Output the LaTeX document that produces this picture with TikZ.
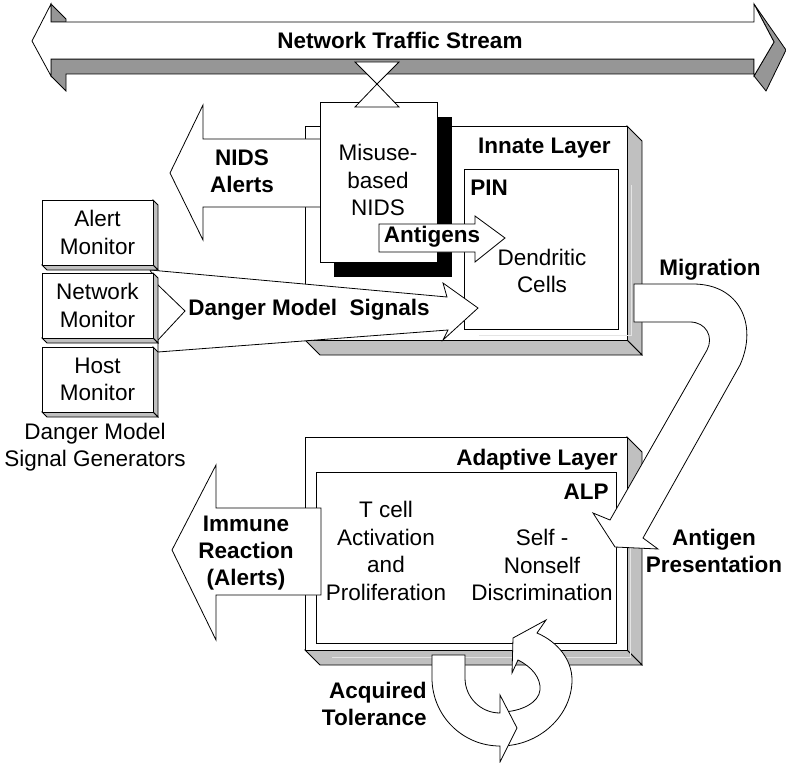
\documentclass[tikz,border=0pt]{standalone}
\usepackage{fontspec}
\setmainfont{Liberation Sans}
\definecolor{streamgray}{HTML}{969696}
\definecolor{facegray}{HTML}{C0C0C0}
\definecolor{hilite}{HTML}{E4E4E4}
\begin{document}
\begin{tikzpicture}[x=1pt,y=-1pt,line width=0.8pt,
  face/.style={draw=black,fill=facegray},
  sface/.style={draw=black,fill=streamgray},
  plate/.style={draw=black,fill=white},
  hl/.style={draw=hilite,line width=0.9pt},
  bold/.style={font=\bfseries\fontsize{22.5}{27}\selectfont,align=center,inner sep=0pt},
  plain/.style={font=\fontsize{22.5}{27.5}\selectfont,align=center,inner sep=0pt},
  monitor/.pic={
    \path[face] (111,0) -- (116,5) -- (116,70) -- (111,65) -- cycle;
    \path[face] (0,65) -- (111,65) -- (116,70) -- (5,70) -- cycle;
    \path[plate] (0,0) rectangle (111,65);
  }]
\useasboundingbox (0,0) rectangle (786,762);

% two-headed extruded arrow for the traffic stream
\path[sface] (51,4) -- (66,19) -- (66,22) -- (51,22) -- cycle;
\path[sface] (51,59) -- (754,59) -- (754,74) -- (66,74) -- (66,91) -- (51,76) -- cycle;
\path[sface] (754,4) -- (786,50) -- (766,91) -- (754,76) -- (774,42) -- cycle;
\path[plate] (32,41) -- (51,4) -- (51,22) -- (754,22) -- (754,4) -- (774,42)
  -- (754,76) -- (754,59) -- (51,59) -- (51,76) -- cycle;
\node[bold] (stream) at (400,40) {Network Traffic Stream};

% innate layer block
\path[face] (627,126) -- (642,141) -- (642,355) -- (627,340) -- cycle;
\path[face] (305,340) -- (627,340) -- (642,355) -- (320,355) -- cycle;
\path[plate] (305,126) rectangle (627,340);
\draw[hl] (479,335) -- (631,335) -- (631,185);
\path[plate] (464,169) rectangle (618,329);
\node[bold,anchor=east] (innate) at (611,148) {Innate Layer};
\node[bold,anchor=west] (pin) at (470,188) {PIN};
\node[plain] (dc) at (542,271) {Dendritic\\Cells};

% NIDS alerts leave to the left
\path[plate] (320,139) -- (203,139) -- (203,105) -- (170,173) -- (203,240) -- (203,207) -- (320,207);
\node[bold] (nidsal) at (242,171) {NIDS\\Alerts};

% misuse-based NIDS with its black shadow
\fill[black] (334,117) rectangle (452,277);
\path[plate] (320,102) rectangle (437,262);
\node[plain] (nids) at (378,180) {Misuse-\\based\\NIDS};

% tap on the stream
\path[plate] (355,62) -- (399,62) -- (377,84) -- cycle;
\path[plate] (355,107) -- (399,107) -- (377,84) -- cycle;

% antigens into the PIN
\path[plate] (379,224) -- (475,224) -- (475,216) -- (505,238) -- (475,262) -- (475,252) -- (379,252) -- cycle;
\node[bold] (ag) at (432,237) {Antigens};

% danger model signals
\path[plate] (150,270) -- (447,297) -- (443,283) -- (478,308) -- (443,340) -- (448,330)
  -- (158,352) -- (158,340) -- (185,311) -- (158,285) -- cycle;
\node[bold] (dms) at (309,310) {Danger Model\ \ Signals};

% signal generators
\pic at (42,200) {monitor};
\pic at (42,273) {monitor};
\pic at (42,347) {monitor};
\node[plain] (alertm) at (97.5,232.5) {Alert\\Monitor};
\node[plain] (netm) at (97.5,305.5) {Network\\Monitor};
\node[plain] (hostm) at (97.5,379.5) {Host\\Monitor};
\node[plain] (gen) at (95,447) {Danger Model\\Signal Generators};

% adaptive layer block
\path[face] (627,437) -- (642,452) -- (642,665) -- (627,650) -- cycle;
\path[face] (305,650) -- (627,650) -- (642,665) -- (320,665) -- cycle;
\path[plate] (305,437) rectangle (627,650);
\draw[hl] (332,657) -- (630,657) -- (630,485);
\path[plate] (316,472) rectangle (616,643);
\node[bold,anchor=east] (adl) at (618,460) {Adaptive Layer};
\node[bold,anchor=east] (alp) at (609,492) {ALP};
\node[plain] (tcell) at (386,551) {T cell\\Activation\\and\\Proliferation};
\node[plain] (self) at (542,565) {Self -\\Nonself\\Discrimination};

% migration from the innate to the adaptive layer
\path[plate] (634,284) -- (693,284) .. controls (740,284) and (758,325) .. (740,365)
  -- (643,538) -- (658,549) -- (615,547) -- (593,513) -- (610,520)
  -- (707,350) .. controls (714,337) and (706,322) .. (690,322) -- (634,322) -- cycle;
\node[bold] (mig) at (710,270) {Migration};
\node[bold] (apres) at (714,551) {Antigen\\Presentation};

% immune reaction
\path[plate] (321,508) -- (216,508) -- (216,465) -- (172,550) -- (216,640) -- (216,595) -- (321,595) -- cycle;
\node[bold] (imm) at (246,553) {Immune\\Reaction\\(Alerts)};

% acquired tolerance loop
\path[plate] (500,746) .. controls (540,746) and (572,715) .. (572,680)
  .. controls (572,660) and (558,642) .. (537,633) -- (546,620) -- (513,638) -- (512,673)
  -- (518,660) .. controls (532,667) and (541,678) .. (540,690)
  .. controls (539,702) and (522,712) .. (500,712) -- cycle;
\path[plate] (432,655) -- (432,678) arc[start angle=180,end angle=90,radius=68]
  -- (500,762) -- (517,728) -- (500,695) -- (500,713)
  arc[start angle=90,end angle=180,radius=35] -- (465,655) -- cycle;
\node[bold,anchor=east,align=right] (acq) at (427,704) {Acquired\\Tolerance};
\end{tikzpicture}
\end{document}
